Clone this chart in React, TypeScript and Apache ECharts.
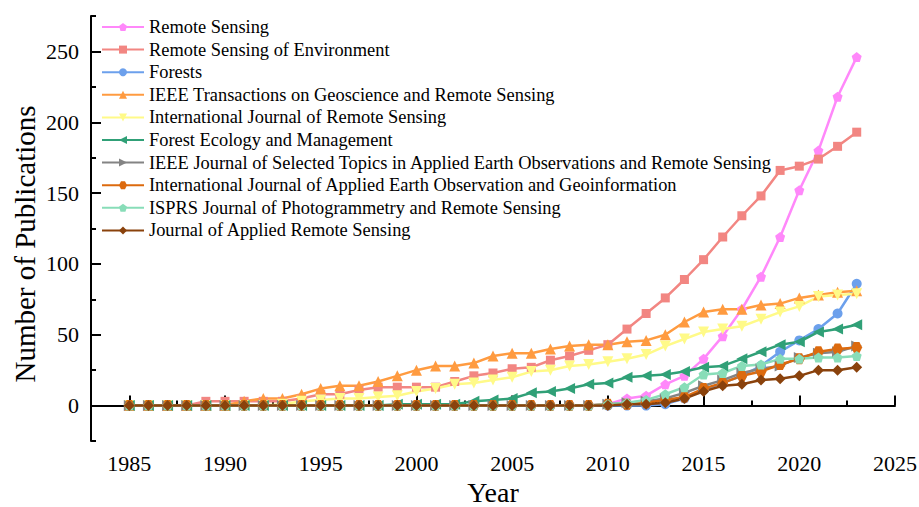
import { useEffect, useRef } from "react";
import * as echarts from "echarts";

const years = [1985, 1986, 1987, 1988, 1989, 1990, 1991, 1992, 1993, 1994, 1995, 1996, 1997, 1998, 1999, 2000, 2001, 2002, 2003, 2004, 2005, 2006, 2007, 2008, 2009, 2010, 2011, 2012, 2013, 2014, 2015, 2016, 2017, 2018, 2019, 2020, 2021, 2022, 2023];

const remoteSensing = [0, 0, 0, 0, 0, 0, 0, 0, 0, 0, 0, 0, 0, 0, 0, 0, 0, 0, 0, 0, 0, 0, 0, 0, 0, 1, 5, 7, 15, 21, 33, 49, 68, 91, 119, 152, 180, 218, 246];
const remoteSensingEnv = [0, 0, 0, 0, 3, 3, 3, 3, 3, 5, 8, 8, 11, 13, 13, 13, 13, 17, 21, 23, 26, 27, 32, 35, 39, 43, 54, 65, 76, 89, 103, 119, 134, 148, 166, 169, 174, 183, 193];
const forests = [0, 0, 0, 0, 0, 0, 0, 0, 0, 0, 0, 0, 0, 0, 0, 0, 0, 0, 0, 0, 0, 0, 0, 0, 0, 0, 0, 0, 1, 5, 11, 16, 21, 28, 38, 46, 54, 65, 86];
const ieeeTgrs = [0, 0, 0, 0, 0, 0, 3, 5, 5, 8, 12, 14, 14, 17, 21, 25, 28, 28, 30, 35, 37, 37, 40, 42, 43, 43, 45, 46, 50, 59, 66, 68, 68, 71, 72, 76, 78, 80, 81];
const ijrs = [0, 0, 0, 0, 0, 0, 0, 0, 1, 3, 4, 5, 5, 6, 7, 10, 12, 15, 16, 18, 20, 24, 25, 28, 29, 31, 33, 36, 42, 47, 52, 54, 56, 61, 66, 70, 77, 78, 79];
const forestEco = [0, 0, 0, 0, 0, 0, 0, 0, 0, 0, 0, 0, 0, 0, 1, 1, 1, 1, 3, 4, 5, 9, 10, 12, 15, 16, 20, 21, 22, 24, 27, 28, 33, 38, 43, 45, 52, 54, 57];
const jstars = [0, 0, 0, 0, 0, 0, 0, 0, 0, 0, 0, 0, 0, 0, 0, 0, 0, 0, 0, 0, 0, 0, 0, 0, 0, 1, 2, 3, 5, 9, 14, 18, 23, 26, 28, 34, 37, 38, 42];
const jag = [0, 0, 0, 0, 0, 0, 0, 0, 0, 0, 0, 0, 0, 0, 0, 0, 0, 0, 0, 0, 0, 0, 0, 0, 0, 1, 1, 2, 4, 6, 12, 16, 21, 24, 29, 33, 38, 40, 41];
const isprs = [0, 0, 0, 0, 0, 0, 0, 0, 0, 0, 0, 0, 0, 0, 0, 0, 0, 0, 0, 0, 0, 0, 0, 0, 0, 1, 2, 4, 8, 13, 22, 23, 28, 29, 33, 33, 34, 34, 35];
const jars = [0, 0, 0, 0, 0, 0, 0, 0, 0, 0, 0, 0, 0, 0, 0, 0, 0, 0, 0, 0, 0, 0, 0, 0, 0, 0, 1, 1, 2, 5, 10, 14, 15, 18, 19, 21, 25, 25, 27];

const seriesNames = [
  "Remote Sensing",
  "Remote Sensing of Environment",
  "Forests",
  "IEEE Transactions on Geoscience and Remote Sensing",
  "International Journal of Remote Sensing",
  "Forest Ecology and Management",
  "IEEE Journal of Selected Topics in Applied Earth Observations and Remote Sensing",
  "International Journal of Applied Earth Observation and Geoinformation",
  "ISPRS Journal of Photogrammetry and Remote Sensing",
  "Journal of Applied Remote Sensing",
];
const seriesValues = [remoteSensing, remoteSensingEnv, forests, ieeeTgrs, ijrs, forestEco, jstars, jag, isprs, jars];

const xMajorTicks = [1985, 1990, 1995, 2000, 2005, 2010, 2015, 2020, 2025];
const xMinorTicks = [1987.5, 1992.5, 1997.5, 2002.5, 2007.5, 2012.5, 2017.5, 2022.5];
const yMajorTicks = [0, 50, 100, 150, 200, 250];
const yMinorTicks = [-25, 25, 75, 125, 175, 225, 275];

const colors = ["#FF88FA", "#F28682", "#6CA0EC", "#FF9B40", "#FFFA88", "#30A077", "#848484", "#DC6A0E", "#88DDB8", "#8A420C"];
const pentagon = "path://M5,0 L10,3.8 L8.1,10 L1.9,10 L0,3.8 Z";
const hexagon = "path://M2.5,0 L7.5,0 L10,5 L7.5,10 L2.5,10 L0,5 Z";
const symbols = [
  pentagon,
  "rect",
  "circle",
  "triangle",
  "path://M0,0 L10,0 L5,9 Z",
  "path://M0,5 L9,0 L9,10 Z",
  "path://M10,5 L1,0 L1,10 Z",
  hexagon,
  pentagon,
  "diamond",
];
const symbolSizes = [10, 9, 10, 11, 11, 11, 11, 11, 10, 11];

const FONT = "Liberation Serif";

export default function App() {
  const ref = useRef<HTMLDivElement>(null);
  useEffect(() => {
    const chart = echarts.init(ref.current!, null, { renderer: "svg" });
    const series = seriesNames.map((name, i) => ({
      name,
      type: "line",
      xAxisIndex: 0,
      yAxisIndex: 0,
      data: years.map((y, j) => [y, seriesValues[i][j]]),
      symbol: symbols[i],
      symbolSize: symbolSizes[i],
      showSymbol: true,
      lineStyle: { color: colors[i], width: 2.5 },
      itemStyle: { color: colors[i], borderWidth: 0 },
      emphasis: { disabled: true },
    }));
    const xFmt = (v: number) => (xMajorTicks.includes(v) ? "{t|" + v + "}" : "");
    const yFmt = (v: number) => (yMajorTicks.includes(v) ? "{t|" + v + "}" : "");
    const rich = { t: { fontFamily: FONT, fontSize: 22, color: "#000" } };
    chart.setOption({
      animation: false,
      textStyle: { fontFamily: FONT, color: "#000" },
      grid: { left: 91, right: 24, top: 16, bottom: 66, containLabel: false, outerBoundsMode: "none" },
      legend: {
        orient: "vertical",
        left: 101,
        top: 18,
        padding: 0,
        itemWidth: 42,
        itemHeight: 10,
        itemGap: 4.6,
        textStyle: { fontFamily: FONT, fontSize: 18.4, color: "#000" },
        data: seriesNames,
      },
      graphic: [
        {
          type: "text",
          x: 25,
          y: 244,
          rotation: Math.PI / 2,
          style: {
            text: "Number of Publications",
            fontFamily: FONT,
            fontSize: 29,
            fill: "#000",
            align: "center",
            verticalAlign: "middle",
          },
        },
      ],
      xAxis: [
        {
          type: "value",
          min: 1983,
          max: 2025,
          interval: 1,
          name: "Year",
          nameLocation: "middle",
          nameGap: 37,
          nameTextStyle: { fontFamily: FONT, fontSize: 28, color: "#000" },
          axisLine: { show: true, lineStyle: { color: "#000", width: 2 } },
          axisTick: { show: true, inside: true, length: 10, customValues: xMajorTicks, lineStyle: { color: "#000", width: 2 } },
          axisLabel: { show: true, formatter: xFmt, rich, fontFamily: FONT, fontSize: 22, color: "#000", margin: 11 },
          splitLine: { show: false },
        },
        {
          type: "value",
          min: 1983,
          max: 2025,
          position: "bottom",
          axisLine: { show: false },
          axisTick: { show: true, inside: true, length: 5, customValues: xMinorTicks, lineStyle: { color: "#000", width: 2 } },
          axisLabel: { show: false },
          splitLine: { show: false },
        },
      ],
      yAxis: [
        {
          type: "value",
          min: -25,
          max: 275,
          interval: 25,
          axisLine: { show: true, lineStyle: { color: "#000", width: 2 } },
          axisTick: { show: true, inside: true, length: 10, customValues: yMajorTicks, lineStyle: { color: "#000", width: 2 } },
          axisLabel: { show: true, formatter: yFmt, rich, fontFamily: FONT, fontSize: 22, color: "#000", margin: 12 },
          splitLine: { show: false },
        },
        {
          type: "value",
          min: -25,
          max: 275,
          position: "left",
          axisLine: { show: false },
          axisTick: { show: true, inside: true, length: 5, customValues: yMinorTicks, lineStyle: { color: "#000", width: 2 } },
          axisLabel: { show: false },
          splitLine: { show: false },
        },
      ],
      series,
    });
    return () => chart.dispose();
  }, []);
  return <div ref={ref} style={{ position: "absolute", left: 0, top: 0, width: 919, height: 507, background: "#fff" }} />;
}
